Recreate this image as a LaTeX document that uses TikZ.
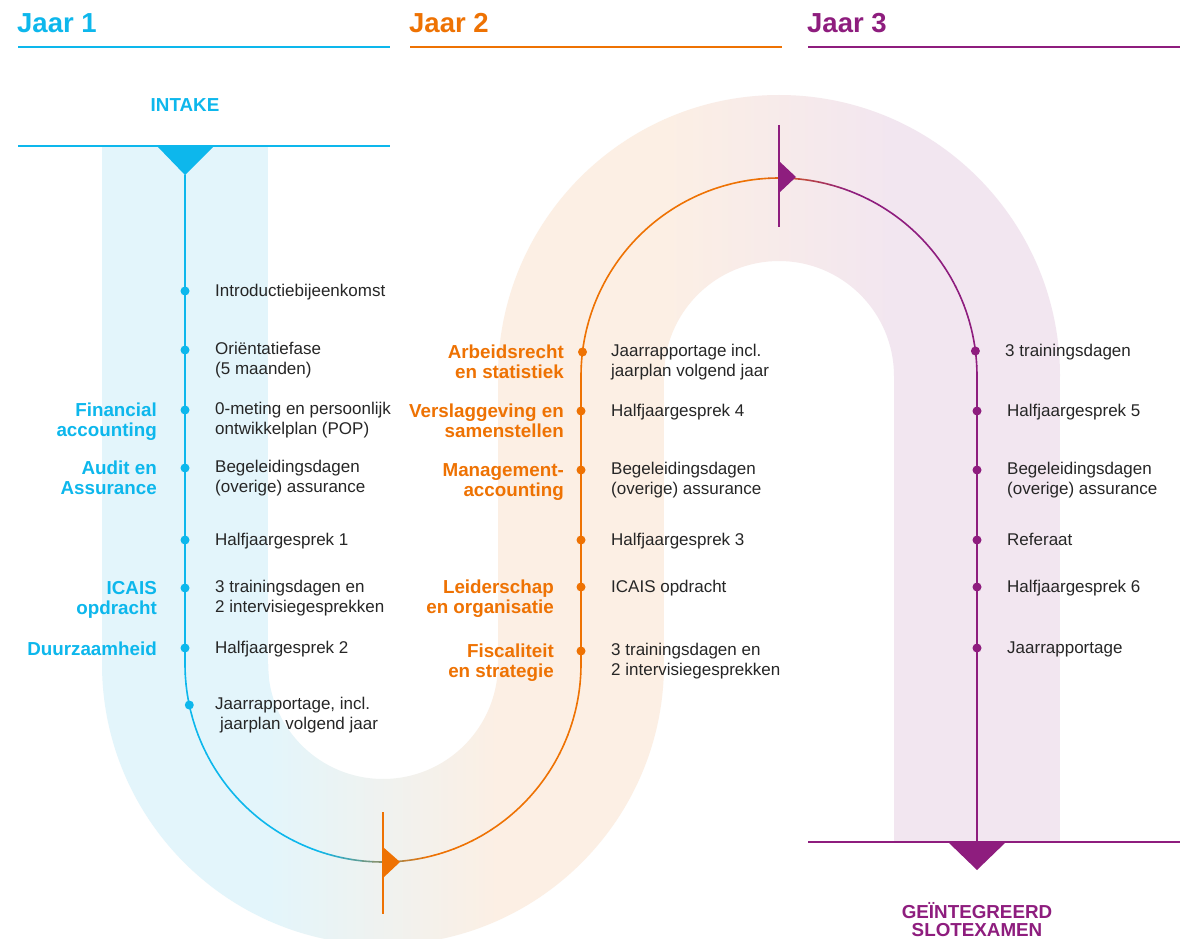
\documentclass[tikz,border=0pt]{standalone}
\usepackage{fontspec}
\setmainfont{Liberation Sans}
\definecolor{cyanC}{HTML}{0DB7EC}
\definecolor{orangeC}{HTML}{EE7203}
\definecolor{purpleC}{HTML}{8E1D7E}
\definecolor{blueL}{HTML}{E3F5FB}
\definecolor{orangeL}{HTML}{FCEFE4}
\definecolor{purpleL}{HTML}{F2E6F0}
\definecolor{txtC}{HTML}{262626}
\begin{document}
\begin{tikzpicture}[x=1pt,y=-1pt,
  bt/.style={anchor=north west,inner sep=0pt,align=left,text=txtC,font=\fontsize{17}{20}\selectfont,execute at begin node=\strut},
  lab/.style={anchor=north east,inner sep=0pt,align=right,font=\bfseries\fontsize{18.8}{20}\selectfont,execute at begin node=\strut},
  title/.style={anchor=base west,inner sep=0pt,font=\bfseries\fontsize{27.5}{30}\selectfont},
  dot/.style={circle,fill=#1,inner sep=0pt,minimum size=9pt},
  path/.style={line width=1.6pt,line cap=round},
  hline/.style={line width=1.5pt},
  marker/.style={line width=2pt}]
\clip (0,0) rectangle (1187,939);
\fill[white] (0,0) rectangle (1187,939);
% ---------- bands ----------
\fill[blueL] (102,147) rectangle (268,664.5);
\begin{scope}
  \clip (102,664) arc[start angle=180,end angle=0,radius=281] -- (498,664) arc[start angle=0,end angle=180,radius=115] -- cycle;
  \fill[blueL] (100,600) rectangle (268.5,960);
  \shade[left color=blueL,right color=orangeL] (268,600) rectangle (498,960);
  \fill[orangeL] (497.5,600) rectangle (666,960);
\end{scope}
\fill[orangeL] (498,375.5) rectangle (664,664.5);
\begin{scope}
  \clip (498,376) arc[start angle=180,end angle=360,radius=281] -- (894,376) arc[start angle=0,end angle=-180,radius=115] -- cycle;
  \fill[orangeL] (496,60) rectangle (664.5,380);
  \shade[left color=orangeL,right color=purpleL] (664,60) rectangle (894,380);
  \fill[purpleL] (893.5,60) rectangle (1062,380);
\end{scope}
\fill[purpleL] (894,375.5) rectangle (1060,842);
% ---------- header lines ----------
\node[title,text=cyanC] (j1) at (17,33) {Jaar 1};
\node[title,text=orangeC] (j2) at (409,33) {Jaar 2};
\node[title,text=purpleC] (j3) at (807,33) {Jaar 3};
\draw[hline,cyanC] (18,47) -- (390,47);
\draw[hline,orangeC] (410,47) -- (782,47);
\draw[hline,purpleC] (808,47) -- (1180,47);
\node[anchor=base,inner sep=0pt,text=cyanC,font=\bfseries\fontsize{18.8}{20}\selectfont] (intake) at (185,112) {INTAKE};
\draw[hline,cyanC] (18,146) -- (390,146);
\fill[cyanC] (157,146) -- (214,146) -- (185,175) -- cycle;
\draw[hline,purpleC] (808,842) -- (1180,842);
\fill[purpleC] (948,842) -- (1006,842) -- (977,870) -- cycle;
\node[anchor=north,inner sep=0pt,align=center,text=purpleC,font=\bfseries\fontsize{18.8}{18.5}\selectfont,execute at begin node=\strut] (exam) at (977,902) {GEÏNTEGREERD\\SLOTEXAMEN};
% ---------- main path ----------
\coordinate (top) at (185,175);
\coordinate (c1) at (383,664);
\coordinate (c2) at (779,376);
\draw[path,cyanC] (top) -- (185,664);
\foreach \a in {180,177,...,3}{
  \pgfmathsetmacro{\xx}{383+198*cos(\a-1.5)}
  \pgfmathsetmacro{\p}{max(0,min(100,(430-\xx)/110*100))}
  \draw[path,color=cyanC!\p!orangeC] (c1) ++(\a:198) arc[start angle=\a,end angle=\a-3,radius=198];
}
\draw[path,orangeC] (581,664) -- (581,376);
\foreach \a in {180,183,...,357}{
  \pgfmathsetmacro{\xx}{779+198*cos(\a+1.5)}
  \pgfmathsetmacro{\p}{max(0,min(100,(850-\xx)/90*100))}
  \draw[path,color=orangeC!\p!purpleC] (c2) ++(\a:198) arc[start angle=\a,end angle=\a+3,radius=198];
}
\draw[path,purpleC] (977,376) -- (977,842);
% ---------- markers ----------
\draw[marker,orangeC] (383,812) -- (383,914);
\fill[orangeC] (383,847) -- (400,862) -- (383,878) -- cycle;
\draw[marker,purpleC] (779,125) -- (779,227);
\fill[purpleC] (779,161) -- (796,177) -- (779,193) -- cycle;
% ---------- year 1 ----------
\node[dot=cyanC] (b1) at (185,291) {};
\node[dot=cyanC] (b2) at (185,350) {};
\node[dot=cyanC] (b3) at (185,410) {};
\node[dot=cyanC] (b4) at (185,468) {};
\node[dot=cyanC] (b5) at (185,540) {};
\node[dot=cyanC] (b6) at (185,588) {};
\node[dot=cyanC] (b7) at (185,648) {};
\node[dot=cyanC] (b8) at (189.3,705) {};
\node[bt] (tb1) at (215,282.5) {Introductiebijeenkomst};
\node[bt] (tb2) at (215,341.5) {Oriëntatiefase\\(5 maanden)};
\node[bt] (tb3) at (215,401.5) {0-meting en persoonlijk\\ontwikkelplan (POP)};
\node[bt] (tb4) at (215,459.5) {Begeleidingsdagen\\(overige) assurance};
\node[bt] (tb5) at (215,531.5) {Halfjaargesprek 1};
\node[bt] (tb6) at (215,579.5) {3 trainingsdagen en\\2 intervisiegesprekken};
\node[bt] (tb7) at (215,639.5) {Halfjaargesprek 2};
\node[bt] (tb8) at (215,696.5) {Jaarrapportage, incl.\\\hspace*{5pt}jaarplan volgend jaar};
\node[lab,text=cyanC] (lb3) at (157,403) {Financial\\accounting};
\node[lab,text=cyanC] (lb4) at (157,461) {Audit en\\Assurance};
\node[lab,text=cyanC] (lb6) at (157,581) {ICAIS\\opdracht};
\node[lab,text=cyanC] (lb7) at (157,641) {Duurzaamheid};
% ---------- year 2 ----------
\node[dot=orangeC] (o1) at (582.5,352) {};
\node[dot=orangeC] (o2) at (581,411) {};
\node[dot=orangeC] (o3) at (581,470) {};
\node[dot=orangeC] (o4) at (581,540) {};
\node[dot=orangeC] (o5) at (581,587) {};
\node[dot=orangeC] (o6) at (581,651) {};
\node[bt] (to1) at (611,343.5) {Jaarrapportage incl.\\jaarplan volgend jaar};
\node[bt] (to2) at (611,402.5) {Halfjaargesprek 4};
\node[bt] (to3) at (611,461.5) {Begeleidingsdagen\\(overige) assurance};
\node[bt] (to4) at (611,531.5) {Halfjaargesprek 3};
\node[bt] (to5) at (611,578.5) {ICAIS opdracht};
\node[bt] (to6) at (611,642.5) {3 trainingsdagen en\\2 intervisiegesprekken};
\node[lab,text=orangeC] (lo1) at (564,345) {Arbeidsrecht\\en statistiek};
\node[lab,text=orangeC] (lo2) at (564,404) {Verslaggeving en\\samenstellen};
\node[lab,text=orangeC] (lo3) at (564,463) {Management-\\accounting};
\node[lab,text=orangeC] (lo5) at (554,580) {Leiderschap\\en organisatie};
\node[lab,text=orangeC] (lo6) at (554,644) {Fiscaliteit\\en strategie};
% ---------- year 3 ----------
\node[dot=purpleC] (p1) at (975.4,351) {};
\node[dot=purpleC] (p2) at (977,411) {};
\node[dot=purpleC] (p3) at (977,470) {};
\node[dot=purpleC] (p4) at (977,540) {};
\node[dot=purpleC] (p5) at (977,587) {};
\node[dot=purpleC] (p6) at (977,648) {};
\node[bt] (tp1) at (1005,342.5) {3 trainingsdagen};
\node[bt] (tp2) at (1007,402.5) {Halfjaargesprek 5};
\node[bt] (tp3) at (1007,461.5) {Begeleidingsdagen\\(overige) assurance};
\node[bt] (tp4) at (1007,531.5) {Referaat};
\node[bt] (tp5) at (1007,578.5) {Halfjaargesprek 6};
\node[bt] (tp6) at (1007,639.5) {Jaarrapportage};
\end{tikzpicture}
\end{document}
